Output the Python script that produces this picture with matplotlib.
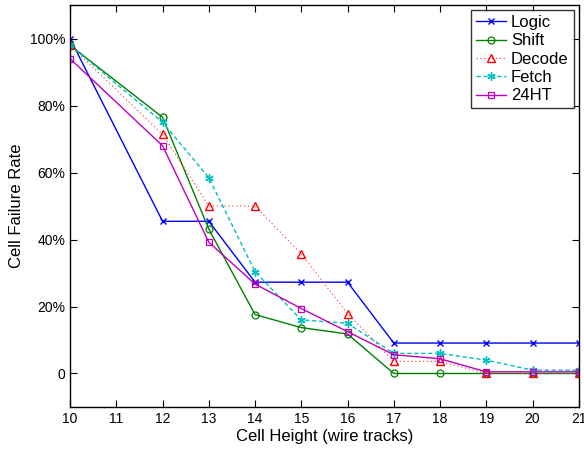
import matplotlib
matplotlib.use('Agg')
import matplotlib.pyplot as plt
from matplotlib.ticker import FuncFormatter

plt.rcParams['font.family'] = ['Liberation Sans', 'DejaVu Sans']

heights = [10, 12, 13, 14, 15, 16, 17, 18, 19, 20, 21]

logic = [1.0, 0.4545, 0.4545, 0.2727, 0.2727, 0.2727, 0.0909, 0.0909, 0.0909, 0.0909, 0.0909]
shift = [0.98, 0.765, 0.431, 0.176, 0.137, 0.118, 0.0, 0.0, 0.0, 0.0, 0.0]
decode = [0.98, 0.714, 0.50, 0.50, 0.357, 0.179, 0.036, 0.036, 0.0, 0.0, 0.0]
fetch = [0.98, 0.75, 0.585, 0.304, 0.16, 0.15, 0.06, 0.06, 0.04, 0.01, 0.01]
ht24 = [0.94, 0.68, 0.392, 0.267, 0.194, 0.125, 0.056, 0.044, 0.005, 0.005, 0.005]

fig = plt.figure(figsize=(5.84, 4.5), dpi=100)
ax = fig.add_axes([0.12, 0.0956, 0.871, 0.893])

ax.plot(heights, logic, color='#0000ff', marker='x', ms=4.5, mew=1, lw=1, label='Logic')
ax.plot(heights, shift, color='#008000', marker='o', ms=5, mfc='none', mew=0.9, lw=1, label='Shift')
ax.plot(heights, decode, color='#ff3030', marker='^', ms=6, mfc='none', mec='#ff0000', mew=1,
        lw=0.8, linestyle=(0, (1, 2.5)), label='Decode')
ax.plot(heights, fetch, color='#00bfbf', marker=(6, 2, 0), ms=6, mew=1, lw=1,
        linestyle=(0, (3, 2)), label='Fetch')
ax.plot(heights, ht24, color='#bf00bf', marker='s', ms=4.5, mfc='none', mew=0.9, lw=1, label='24HT')

ax.set_xlim(10, 21)
ax.set_ylim(-0.1, 1.1)
ax.set_xticks(range(10, 22))
ax.set_yticks([0, 0.2, 0.4, 0.6, 0.8, 1.0])
ax.yaxis.set_major_formatter(FuncFormatter(lambda v, p: '0' if abs(v) < 1e-9 else '{:.0f}%'.format(v * 100)))
ax.tick_params(direction='in', top=True, right=True, labelsize=10, length=5)
for sp in ax.spines.values():
    sp.set_linewidth(1)

ax.set_xlabel('Cell Height (wire tracks)', fontsize=12, labelpad=2)
ax.set_ylabel('Cell Failure Rate', fontsize=12, labelpad=4)

leg = ax.legend(loc='upper right', fontsize=12, fancybox=False, edgecolor='black',
                handlelength=1.8, handletextpad=0.3, labelspacing=0.2, borderpad=0.3,
                borderaxespad=0.3)
leg.get_frame().set_linewidth(1)

fig.savefig('out.png', dpi=100)
